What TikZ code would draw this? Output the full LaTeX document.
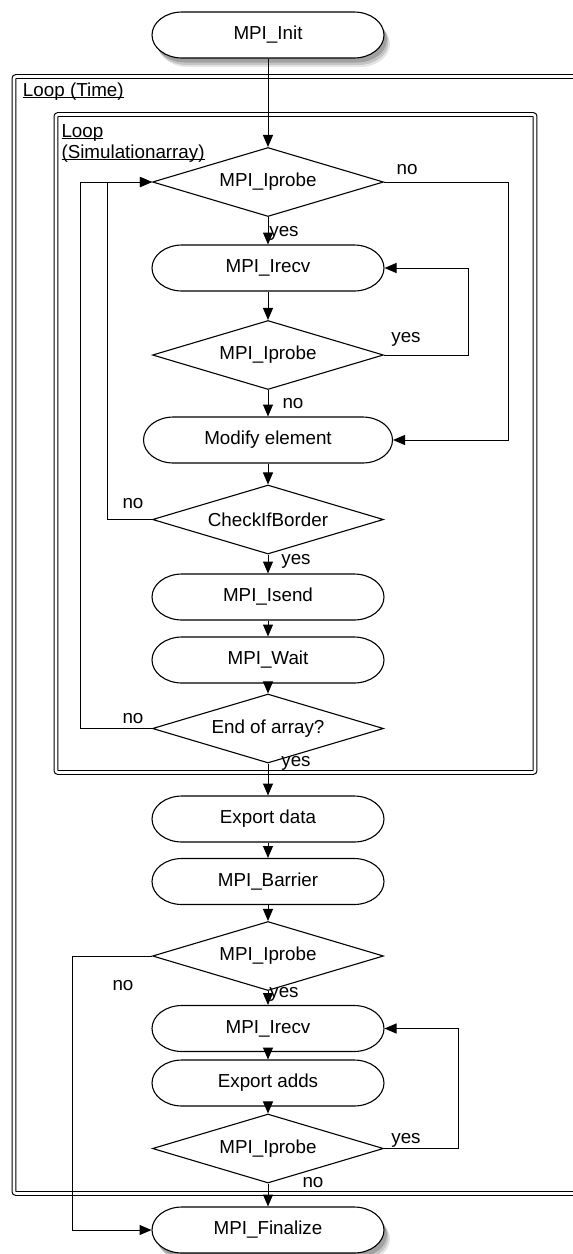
\documentclass[tikz,border=0pt]{standalone}
\usepackage{fontspec}
\setmainfont{Liberation Sans}
\usetikzlibrary{shapes.geometric,arrows.meta,calc}
\newcommand\flowfont{\fontsize{18.8}{22}\selectfont}
\newcommand\ulin[1]{{\setbox0\hbox{#1}\rlap{\rule[-1.8pt]{\wd0}{0.9pt}}\box0}}
\newcommand\termpath[4]{% style, x, y, halfwidth
  \path[#1] ($(#2,#3)+(-#4pt+30pt,23pt)$) -- ++(2*#4pt-60pt,0pt)
    arc[start angle=90,end angle=-90,x radius=30pt,y radius=23pt]
    -- ++(-2*#4pt+60pt,0pt)
    arc[start angle=270,end angle=90,x radius=30pt,y radius=23pt] -- cycle;}
\newcommand\termbox[5]{% name, x, y, halfwidth, text
  \termpath{tline}{#2}{#3}{#4}%
  \node[tnode, minimum width=2*#4pt] (#1) at (#2,#3) {#5};}
\newcommand\shadowbox[5]{% name, x, y, halfwidth, text
  \termpath{fill=black,opacity=0.10,xshift=6pt,yshift=-9pt}{#2}{#3}{#4}%
  \termpath{fill=black,opacity=0.14,xshift=4.5pt,yshift=-7pt}{#2}{#3}{#4}%
  \termpath{fill=black,opacity=0.18,xshift=3pt,yshift=-4.5pt}{#2}{#3}{#4}%
  \termbox{#1}{#2}{#3}{#4}{#5}}
\begin{document}
\begin{tikzpicture}[x=1pt,y=-1pt,
  line width=1pt,
  dec/.style={diamond, draw, line width=1.1pt, fill=white, minimum width=231pt, minimum height=69pt, inner sep=0pt, aspect=3.35, font=\flowfont},
  tnode/.style={minimum height=46pt, inner sep=0pt, font=\flowfont},
  tline/.style={draw, line width=1.1pt, fill=white},
  arr/.style={-{Triangle[length=12pt,width=10pt]}, line width=1pt},
  lbl/.style={font=\flowfont, inner sep=0pt},
  frame/.style={draw, double, double distance=2.6pt, line width=1.1pt, rounded corners=2pt},
]
\useasboundingbox (0,0) rectangle (573,1254);
\clip (0,0) rectangle (573,1254);

% frames
\draw[frame] (14,76.5) rectangle (620,1193.5);
\draw[frame] (56,114.5) rectangle (535,772.5);
\node[lbl, anchor=base west] (lt) at (22.5,96) {\ulin{Loop (Time)}};
\node[lbl, anchor=base west] (ls1) at (61,137.5) {\ulin{Loop}};
\node[lbl, anchor=base west] (ls2) at (61,158) {\ulin{(Simulationarray)}};

% nodes
\shadowbox{init}{268}{35}{116}{MPI\_Init}
\node[dec] (d1) at (268,182) {MPI\_Iprobe};
\termbox{recv1}{268}{268}{116}{MPI\_Irecv}
\node[dec] (d2) at (268,355) {MPI\_Iprobe};
\termbox{mod}{268}{440}{124.5}{Modify element}
\node[dec] (cib) at (268,519.5) {CheckIfBorder};
\termbox{isend}{268}{597}{116}{MPI\_Isend}
\termbox{wait}{268}{660}{116}{MPI\_Wait}
\node[dec] (eoa) at (268,728.5) {End of array?};
\termbox{exp}{268}{819}{116}{Export data}
\termbox{bar}{268}{881.5}{116}{MPI\_Barrier}
\node[dec] (d3) at (268,956) {MPI\_Iprobe};
\termbox{recv2}{268}{1028.5}{116}{MPI\_Irecv}
\termbox{adds}{268}{1083}{116}{Export adds}
\node[dec] (d4) at (268,1148.5) {MPI\_Iprobe};
\shadowbox{fin}{268}{1230}{116}{MPI\_Finalize}

% straight connectors
\draw[arr] (init) -- (d1);
\draw[arr] (d1) -- (recv1);
\draw[arr] (recv1) -- (d2);
\draw[arr] (d2) -- (mod);
\draw[arr] (mod) -- (cib);
\draw[arr] (cib) -- (isend);
\draw[arr] (isend) -- (wait);
\draw[arr] (wait) -- (eoa);
\draw[arr] (eoa) -- (exp);
\draw[arr] (exp) -- (bar);
\draw[arr] (bar) -- (d3);
\draw[arr] (d3) -- (recv2);
\draw[arr] (recv2) -- (adds);
\draw[arr] (adds) -- (d4);
\draw[arr] (d4) -- (fin);

% loops
\coordinate (r1) at (508,182);
\coordinate (r2) at (468,355);
\coordinate (l1) at (107,182);
\coordinate (l2) at (80,182);
\coordinate (r3) at (458,1148.5);
\coordinate (l3) at (72,956);
\draw[arr] (d1.east) -- (r1) |- (mod.east);
\draw[arr] (d2.east) -- (r2) |- (recv1.east);
\draw[arr] (cib.west) -| (l1) -- (d1.west);
\draw[arr] (eoa.west) -| (l2) -- (d1.west);
\draw[arr] (d4.east) -- (r3) |- (recv2.east);
\draw[arr] (d3.west) -- (l3) |- (fin.west);

% labels
\node[lbl] at (407,170) {no};
\node[lbl] at (284,233) {yes};
\node[lbl] at (406,339) {yes};
\node[lbl] at (293,404) {no};
\node[lbl] at (133,504) {no};
\node[lbl] at (296,561) {yes};
\node[lbl] at (133,719) {no};
\node[lbl] at (296,763) {yes};
\node[lbl] at (123,986) {no};
\node[lbl] at (284,994) {yes};
\node[lbl] at (406,1140) {yes};
\node[lbl] at (313,1183) {no};
\end{tikzpicture}
\end{document}
